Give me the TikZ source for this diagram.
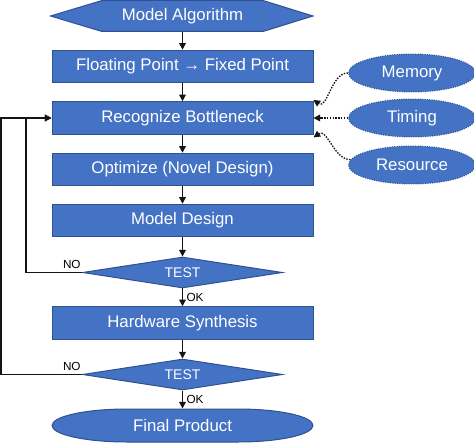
\documentclass[tikz,border=0pt]{standalone}
\usepackage{fontspec}
\setmainfont{Liberation Sans}
\usetikzlibrary{shapes.geometric,arrows.meta}

\tikzset{every picture/.style={line width=0.75pt}}
\tikzset{
  shapefill/.style={draw={rgb, 255:red, 47; green, 82; blue, 143 }, fill={rgb, 255:red, 68; green, 114; blue, 196 }},
  steptext/.style={text=white, font=\fontsize{12.6}{14}\selectfont, inner sep=0.75pt},
  procbox/.style={shapefill, steptext, rectangle, minimum width=195.75pt, minimum height=24.4pt},
  testbox/.style={shapefill, diamond, aspect=6.45, minimum width=150pt, minimum height=23.25pt, inner sep=0pt, text=white, font=\fontsize{10.5}{12}\selectfont},
  factorbox/.style={shapefill, densely dotted, ellipse, steptext, minimum width=95.25pt, minimum height=28.5pt},
  flowline/.style={draw={rgb, 255:red, 20; green, 20; blue, 20 }, line width=1.1pt, -{Triangle[length=5pt,width=5pt]}},
  dotline/.style={flowline, densely dotted, line width=1pt},
  smalltext/.style={text=black, font=\fontsize{8.8}{10}\selectfont, inner sep=2.5pt},
}

\begin{document}
\begin{tikzpicture}[x=0.75pt,y=0.75pt,yscale=-1,xscale=1]
        \useasboundingbox (0,0) rectangle (474,445);

        %Shape: Hexagon
        \draw [shapefill] (50.5,16) -- (102,0.5) -- (263,0.5) -- (313,16) -- (263,31.5) -- (102,31.5) -- cycle ;
        %Shape: Terminator
        \draw [shapefill] (127,409) .. controls (85.6,409) and (52,416.4) .. (52,425.5) .. controls (52,434.6) and (85.6,442) .. (127,442) -- (238,442) .. controls (279.4,442) and (313,434.6) .. (313,425.5) .. controls (313,416.4) and (279.4,409) .. (238,409) -- cycle ;

        % Steps
        \node (alg) at (182.5,16) [steptext, minimum height=24pt] {Model Algorithm};
        \node (fixp) at (182.5,66.5) [procbox] {Floating Point → Fixed Point};
        \node (recog) at (182.5,118) [procbox] {Recognize Bottleneck};
        \node (optim) at (182.5,169.5) [procbox] {Optimize (Novel Design)};
        \node (mdes) at (182.5,220.5) [procbox] {Model Design};
        \node (test1) at (182.5,272.5) [testbox] {TEST};
        \node (hwsyn) at (182.5,323) [procbox] {Hardware Synthesis};
        \node (test2) at (182.5,374.5) [testbox] {TEST};
        \node (final) at (182.5,425.5) [steptext, minimum height=24.75pt] {Final Product};

        % Bottleneck factors
        \node (mem) at (412,73) [factorbox] {Memory};
        \node (timing) at (412,118) [factorbox] {Timing};
        \node (res) at (412,165) [factorbox] {Resource};

        % Main flow
        \draw [flowline] (alg.south) -- (fixp.north) ;
        \draw [flowline] (fixp) -- (recog) ;
        \draw [flowline] (recog) -- (optim) ;
        \draw [flowline] (optim) -- (mdes) ;
        \draw [flowline] (mdes) -- (test1) ;
        \draw [flowline] (test1) -- node [midway, right, smalltext] {OK} (hwsyn) ;
        \draw [flowline] (hwsyn) -- (test2) ;
        \draw [flowline] (test2) -- node [midway, right, smalltext] {OK} (final.north) ;

        % Feedback
        \draw [flowline] (test1.west) -- node [pos=0, anchor=south east, smalltext, xshift=2pt] {NO} ++(-56,0) |- (recog.west) ;
        \draw [flowline] (test2.west) -- node [pos=0, anchor=south east, smalltext, xshift=2pt] {NO} ++(-81,0) |- (recog.west) ;

        % Factors into bottleneck
        \draw [dotline] (mem.west) to [out=180,in=35] ([yshift=-1pt]recog.north east) ;
        \draw [dotline] (timing) -- (recog) ;
        \draw [dotline] (res.175) to [out=180,in=-35] ([yshift=2pt]recog.south east) ;

\end{tikzpicture}
\end{document}
